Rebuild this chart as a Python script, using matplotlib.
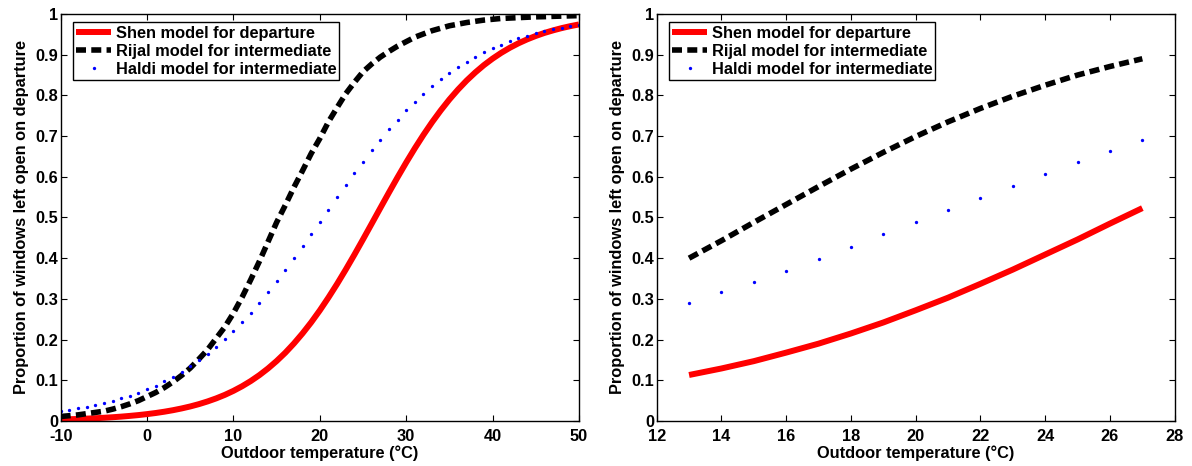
import matplotlib
matplotlib.use('Agg')
import matplotlib.pyplot as plt

plt.rcParams['font.family'] = ['Liberation Sans', 'DejaVu Sans']
plt.rcParams['font.weight'] = 'bold'
plt.rcParams['axes.unicode_minus'] = False

# left panel: full temperature range, one value per degree
temp_full = list(range(-10, 51))
shen_full = [0.0037, 0.0043, 0.0050, 0.0058, 0.0068, 0.0079, 0.0092, 0.0107, 0.0125, 0.0145,
  0.0169, 0.0196, 0.0228, 0.0265, 0.0308, 0.0357, 0.0414, 0.0480, 0.0555, 0.0641,
  0.0740, 0.0853, 0.0981, 0.1126, 0.1290, 0.1473, 0.1676, 0.1903, 0.2152, 0.2423,
  0.2717, 0.3033, 0.3367, 0.3719, 0.4085, 0.4462, 0.4845, 0.5230, 0.5612, 0.5987,
  0.6351, 0.6700, 0.7031, 0.7342, 0.7631, 0.7899, 0.8143, 0.8365, 0.8564, 0.8744,
  0.8903, 0.9045, 0.9170, 0.9280, 0.9376, 0.9460, 0.9534, 0.9597, 0.9653, 0.9701,
  0.9743]
rijal_full = [0.011, 0.013, 0.015, 0.018, 0.021, 0.024, 0.029, 0.035, 0.042, 0.050,
  0.060, 0.070, 0.082, 0.096, 0.112, 0.130, 0.152, 0.175, 0.203, 0.231,
  0.265, 0.304, 0.347, 0.392, 0.440, 0.488, 0.530, 0.574, 0.615, 0.657,
  0.694, 0.735, 0.770, 0.804, 0.832, 0.858, 0.877, 0.894, 0.908, 0.921,
  0.932, 0.943, 0.951, 0.959, 0.965, 0.971, 0.975, 0.979, 0.982, 0.985,
  0.987, 0.989, 0.990, 0.991, 0.992, 0.993, 0.9934, 0.9942, 0.9948, 0.9954,
  0.9959]
haldi_full = [0.0245, 0.0275, 0.0310, 0.0348, 0.0392, 0.0440, 0.0494, 0.0554, 0.0621, 0.0696,
  0.0778, 0.0870, 0.0972, 0.1084, 0.1207, 0.1341, 0.1490, 0.1650, 0.1824, 0.2011,
  0.2213, 0.2431, 0.2660, 0.2903, 0.3160, 0.3428, 0.3708, 0.3994, 0.4288, 0.4588,
  0.4890, 0.5195, 0.5496, 0.5793, 0.6087, 0.6371, 0.6649, 0.6913, 0.7166, 0.7406,
  0.7631, 0.7845, 0.8042, 0.8226, 0.8397, 0.8554, 0.8698, 0.8829, 0.8948, 0.9058,
  0.9156, 0.9246, 0.9326, 0.9398, 0.9464, 0.9522, 0.9574, 0.9621, 0.9663, 0.9700,
  0.9733]

# right panel: 13..27 degC
temp_zoom = list(range(13, 28))
shen_zoom = [0.113, 0.129, 0.147, 0.168, 0.190, 0.215, 0.242, 0.272, 0.303, 0.337, 0.372, 0.409, 0.446, 0.485, 0.523]
rijal_zoom = [0.400, 0.443, 0.488, 0.532, 0.576, 0.619, 0.660, 0.699, 0.735, 0.768, 0.798, 0.825, 0.850, 0.871, 0.890]
haldi_zoom = [0.289, 0.316, 0.342, 0.369, 0.398, 0.428, 0.459, 0.489, 0.519, 0.549, 0.578, 0.608, 0.636, 0.663, 0.690]

xticks_full = [-10, 0, 10, 20, 30, 40, 50]
xticks_zoom = [12, 14, 16, 18, 20, 22, 24, 26, 28]
yticks = [0, 0.1, 0.2, 0.3, 0.4, 0.5, 0.6, 0.7, 0.8, 0.9, 1]
ytick_labels = ['0', '0.1', '0.2', '0.3', '0.4', '0.5', '0.6', '0.7', '0.8', '0.9', '1']

series_names = ['Shen model for departure', 'Rijal model for intermediate', 'Haldi model for intermediate']
xlabel = 'Outdoor temperature (\u00b0C)'
ylabel = 'Proportion of windows left open on departure'

FS = 11.8


def draw_panel(ax, t, shen, rijal, haldi, xticks, xlim):
  ax.plot(t, shen, color='red', lw=4.3, solid_capstyle='butt', label=series_names[0])
  ax.plot(t, rijal, color='black', lw=4.0, ls='--', dashes=(1.8, 0.95), label=series_names[1])
  ax.plot(t, haldi, ls='none', marker='o', ms=2.4, mew=0, color='blue', label=series_names[2])
  ax.set_xlim(*xlim)
  ax.set_ylim(0, 1)
  ax.set_xticks(xticks)
  ax.set_xticklabels([str(v) for v in xticks])
  ax.set_yticks(yticks)
  ax.set_yticklabels(ytick_labels)
  ax.tick_params(direction='in', length=4.5, width=0.8, top=True, right=True, labelsize=FS)
  ax.tick_params(axis='x', pad=6)
  ax.tick_params(axis='y', pad=2)
  for s in ax.spines.values():
    s.set_linewidth(1.0)
  ax.set_xlabel(xlabel, fontsize=FS, fontweight='bold', labelpad=1)
  ax.set_ylabel(ylabel, fontsize=FS, fontweight='bold', labelpad=4)
  leg = ax.legend(loc='upper left', bbox_to_anchor=(0.0237, 0.9796), borderaxespad=0,
                  fontsize=FS, numpoints=1, handlelength=2.15, handletextpad=0.25,
                  borderpad=0.2, labelspacing=0.2, fancybox=False, framealpha=1)
  leg.get_frame().set_edgecolor('black')
  leg.get_frame().set_linewidth(1.0)


fig = plt.figure(figsize=(11.92, 4.66), dpi=100)
ax1 = fig.add_axes([0.0509, 0.0966, 0.4348, 0.8734])
ax2 = fig.add_axes([0.5509, 0.0966, 0.4346, 0.8734])
draw_panel(ax1, temp_full, shen_full, rijal_full, haldi_full, xticks_full, (-10, 50))
draw_panel(ax2, temp_zoom, shen_zoom, rijal_zoom, haldi_zoom, xticks_zoom, (12, 28))
fig.savefig('out.png', dpi=100)
